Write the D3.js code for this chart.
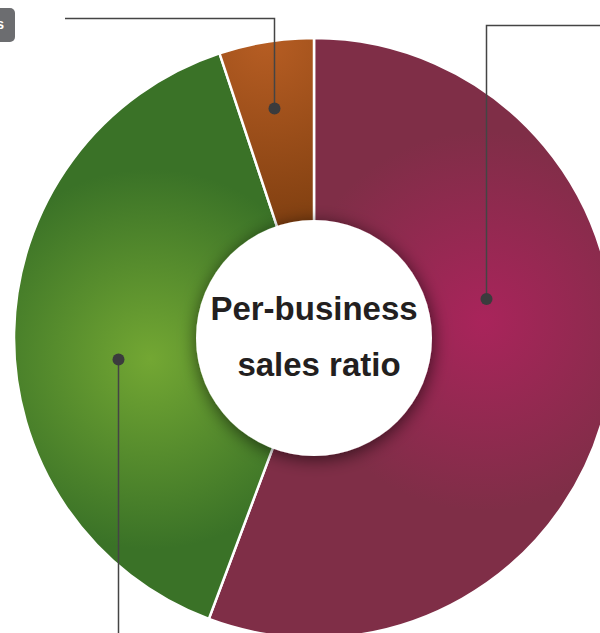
<!DOCTYPE html>
<html>
  <head>
    <meta charset="utf-8">
    <title>Per-business sales ratio</title>
    <script src="https://d3js.org/d3.v7.min.js"></script>
    <style>
      html, body { margin: 0; padding: 0; background: #fff; overflow: hidden; }
      svg { display: block; }
    </style>
  </head>
  <body>
    <div id="chart"></div>
    <script>
      // Chart data (clockwise from 12 o'clock)
      const businesses = ["Business A", "Business B", "Others"];
      const shares = [55.7, 39.2, 5.1];
      const baseColors = ["#7f2e47", "#3a7227", "#7c3d0f"];
      const lightColors = ["#a9245b", "#73a733", "#b65d23"];
      const titleLines = ["Per-business", "sales ratio"];

      const width = 600;
      const height = 633;
      const cx = 314, cy = 338;
      const outerR = 300, innerR = 100, holeR = 118;

      const svg = d3.select("#chart")
        .append("svg")
        .attr("width", width)
        .attr("height", height);

      const defs = svg.append("defs");

      // soft shadow under the centre disc
      const shadow = defs.append("filter")
        .attr("id", "hole-shadow")
        .attr("x", "-30%").attr("y", "-30%")
        .attr("width", "160%").attr("height", "160%");
      shadow.append("feDropShadow")
        .attr("dx", 1).attr("dy", 3)
        .attr("stdDeviation", 9)
        .attr("flood-color", "#000")
        .attr("flood-opacity", 0.6);

      const pie = d3.pie().sort(null).value(d => d);
      const arcs = pie(shares);

      const arc = d3.arc().innerRadius(innerR).outerRadius(outerR);

      function polar(angle, r) {
        return [r * Math.sin(angle), -r * Math.cos(angle)];
      }

      // highlight of each slice: angle fraction inside slice, radius
      const glows = [
        { t: 0.42, r: 170, size: 190 },
        { t: 0.44, r: 165, size: 190 },
        { t: 0.5, r: 300, size: 200 }
      ];

      arcs.forEach((a, i) => {
        const gl = glows[i];
        const ang = a.startAngle + (a.endAngle - a.startAngle) * gl.t;
        const p = polar(ang, gl.r);
        const grad = defs.append("radialGradient")
          .attr("id", "grad" + i)
          .attr("gradientUnits", "userSpaceOnUse")
          .attr("cx", p[0]).attr("cy", p[1])
          .attr("r", gl.size);
        grad.append("stop").attr("offset", "0%").attr("stop-color", lightColors[i]);
        grad.append("stop").attr("offset", "100%").attr("stop-color", baseColors[i]);
      });

      const g = svg.append("g").attr("transform", `translate(${cx},${cy})`);

      g.selectAll("path.slice")
        .data(arcs)
        .enter()
        .append("path")
        .attr("class", "slice")
        .attr("d", arc)
        .attr("fill", (d, i) => `url(#grad${i})`)
        .attr("stroke", "#fff")
        .attr("stroke-width", 2.5);

      // centre disc
      g.append("circle")
        .attr("r", holeR)
        .attr("fill", "#fff")
        .attr("filter", "url(#hole-shadow)");

      g.selectAll("text.title")
        .data(titleLines)
        .enter()
        .append("text")
        .attr("class", "title")
        .attr("x", (d, i) => i === 0 ? 0 : 5)
        .attr("y", (d, i) => -18 + i * 56)
        .attr("text-anchor", "middle")
        .attr("font-family", "'Liberation Sans', Arial, Helvetica, sans-serif")
        .attr("font-weight", "bold")
        .attr("font-size", 33)
        .attr("fill", "#231f20")
        .text(d => d);

      // leader lines: anchor point (angle fraction inside slice, radius) and elbow
      const anchors = [
        { t: 0.385, r: 176, dir: "up", elbowY: 25, endX: 620 },
        { t: 0.448, r: 197, dir: "down", endY: 640 },
        { t: 0.46, r: 233, dir: "up", elbowY: 18, endX: 65 }
      ];

      const leaders = svg.append("g");
      arcs.forEach((a, i) => {
        const an = anchors[i];
        const ang = a.startAngle + (a.endAngle - a.startAngle) * an.t;
        const p = polar(ang, an.r);
        const x = Math.round(cx + p[0]) + 0.5;
        const y = cy + p[1];
        const pts = an.dir === "up"
          ? [[x, y], [x, an.elbowY + 0.5], [an.endX, an.elbowY + 0.5]]
          : [[x, y], [x, an.endY]];
        leaders.append("path")
          .attr("d", d3.line()(pts))
          .attr("fill", "none")
          .attr("stroke", "#444")
          .attr("stroke-width", 1.5);
        leaders.append("circle")
          .attr("cx", x).attr("cy", y)
          .attr("r", 6)
          .attr("fill", "#3b3b3d");
      });

      // partly visible label tag at the top left
      const tag = svg.append("g");
      tag.append("rect")
        .attr("x", -120).attr("y", 8)
        .attr("width", 135).attr("height", 34)
        .attr("rx", 5)
        .attr("fill", "#6c6d70");
      tag.append("text")
        .attr("x", 4).attr("y", 29)
        .attr("text-anchor", "end")
        .attr("font-family", "'Liberation Sans', Arial, sans-serif")
        .attr("font-weight", "bold")
        .attr("font-size", 14)
        .attr("fill", "#fff")
        .text(businesses[2]);
    </script>
  </body>
</html>
